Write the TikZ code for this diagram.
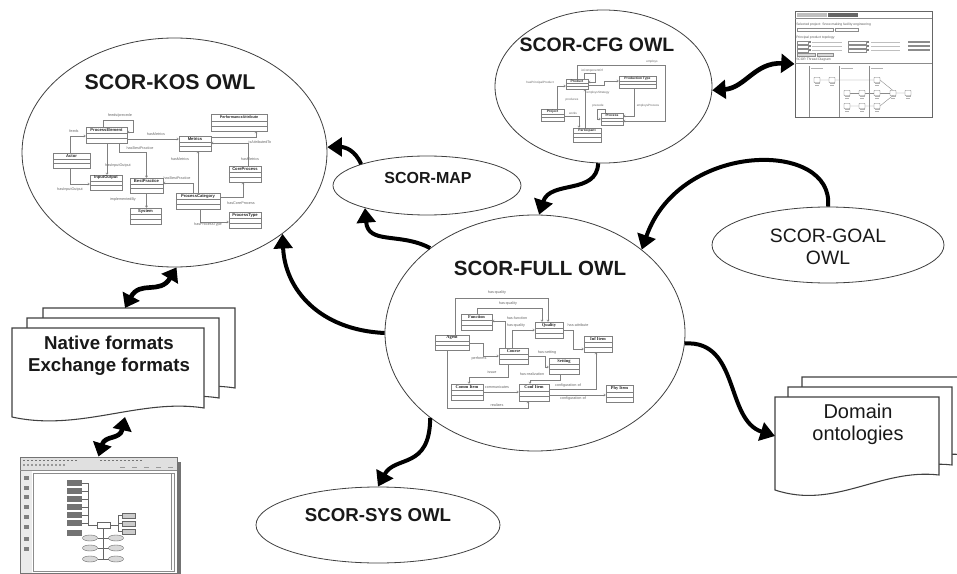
\documentclass[tikz,border=0pt]{standalone}
\usepackage{fontspec}
\setmainfont{Liberation Sans}
\newfontfamily\umlserif{Liberation Serif}
\usetikzlibrary{shapes.geometric,arrows.meta,calc}

\tikzset{
  ell/.style={ellipse, draw=black!75, line width=0.6pt, fill=white, inner sep=0pt},
  ttl/.style={inner sep=0pt, text=black!90, font=\bfseries\fontsize{#1}{#1}\selectfont},
  rtl/.style={inner sep=0pt, align=center, text=black!90, font=\fontsize{#1}{16.5}\selectfont},
  btl/.style={inner sep=0pt, align=center, text=black!90, font=\bfseries\fontsize{#1}{16.5}\selectfont},
  big/.style={line width=3pt, black, -{Triangle[length=11pt,width=14pt]}},
  dbl/.style={line width=3.5pt, black, {Triangle[length=10pt,width=14pt]}-{Triangle[length=10pt,width=14pt]}},
  doc/.style={draw=black!75, line width=0.8pt, fill=white},
  umlrect/.style={draw=black!50, line width=0.35pt, fill=white, inner sep=0pt, rectangle},
  umln/.style={font=\bfseries\fontsize{3.1}{3.2}\selectfont, inner sep=0pt, text=black!85},
  umll/.style={font=\fontsize{2.8}{3}\selectfont, inner sep=0pt, text=black!60},
  uline/.style={draw=black!50, line width=0.35pt},
  uarr/.style={uline, -{Straight Barb[length=1.2pt,width=1.8pt]}},
  shot/.style={draw=black!60, line width=0.7pt, fill=white, inner sep=0pt, rectangle},
  tinyt/.style={font=\fontsize{2.5}{3}\selectfont, inner sep=0pt, text=black!65, anchor=west},
  sline/.style={draw=black!45, line width=0.3pt},
}

\newcommand{\umlbox}[7][]{%
  \pgfmathsetmacro{\umlW}{(#6-#4)*0.75}%
  \pgfmathsetmacro{\umlH}{(#7-#5)*0.75}%
  \pgfmathsetmacro{\umlA}{(#7-#5)*0.42}%
  \pgfmathsetmacro{\umlC}{(#7-#5)*0.21}%
  \pgfmathsetmacro{\umlB}{(#7-#5)*0.71}%
  \node[umlrect, minimum width=\umlW pt, minimum height=\umlH pt] (#2) at ({(#4+#6)/2},{(#5+#7)/2}) {};
  \node[umln,#1] at ($(#2.north)+(0,\umlC)$) {#3};
  \draw[uline] ($(#2.north west)+(0,\umlA)$) -- ($(#2.north east)+(0,\umlA)$);
  \draw[uline] ($(#2.north west)+(0,\umlB)$) -- ($(#2.north east)+(0,\umlB)$);
}

\begin{document}
\begin{tikzpicture}[x=0.75pt,y=-0.75pt]
\useasboundingbox (0,0) rectangle (957,574);
\fill[white] (0,0) rectangle (957,574);

% ---------------- ellipses ----------------
\node[ell, minimum width=228.75pt, minimum height=171.75pt] (kos) at (174.5,152.5) {};
\node[ell, minimum width=225pt, minimum height=177pt] (full) at (535,333) {};
\node[ell, minimum width=162.75pt, minimum height=114.75pt] (cfg) at (603.5,86.5) {};
\node[ell, minimum width=141pt, minimum height=44.25pt] (map) at (427,185.5) {};
\node[ell, minimum width=174pt, minimum height=57pt] (goal) at (828,245) {};
\node[ell, minimum width=183pt, minimum height=57pt] (sys) at (378,525) {};

\node[ttl=16] (kost) at (170,82) {SCOR-KOS OWL};
\node[ttl=15.4] (fullt) at (540,268) {SCOR-FULL OWL};
\node[ttl=14.6] (cfgt) at (597,45) {SCOR-CFG OWL};
\node[ttl=12] (mapt) at (428,178) {SCOR-MAP};
\node[rtl=14.5] (goalt) at (828,247) {SCOR-GOAL\\OWL};
\node[ttl=14] (syst) at (378,515) {SCOR-SYS OWL};

% ---------------- KOS UML ----------------
\umlbox{pe}{ProcessElement}{86}{127}{127}{143}
\umlbox{act}{Actor}{53}{153}{90}{168}
\umlbox{io}{InputOutput}{90}{175}{122}{190}
\umlbox{bp}{BestPractice}{130}{178}{163}{193}
\umlbox{sy}{System}{130}{208}{161}{224}
\umlbox{met}{Metrics}{179}{136}{211}{151}
\umlbox[font=\bfseries\fontsize{2.8}{3}\selectfont]{pa}{PerformanceAttribute}{211}{114}{267}{131}
\umlbox{cp}{CoreProcess}{229}{166}{261}{182}
\umlbox{pc}{ProcessCategory}{176}{193}{220}{209}
\umlbox{pt}{ProcessType}{229}{212}{261}{228}

\draw[uarr] (pe.north -| 103,0) -- (103,120) -- (133,120) -- (133,132) -- (pe.east |- 0,132);
\draw[uarr] (act.north -| 70,0) |- (pe.west |- 0,136);
\draw[uarr] (act.south -| 70,0) |- (io.west |- 0,184);
\draw[uarr] (pe.south -| 107,0) -- (io.north -| 107,0);
\draw[uarr] (pe.south -| 119,0) |- (146.5,152) -- (bp.north);
\draw[uarr] (pe.east |- 0,139) -- (met.west |- 0,139);
\draw[uarr] (bp.south) -- (bp.south |- sy.north);
\draw[uarr] (pc.north -| 198,0) -- (met.south -| 198,0);
\draw[uarr] (pc.north -| 193,0) |- (bp.east |- 0,183);
\draw[uarr] (pc.east |- 0,197) -| (cp.south -| 243,0);
\draw[uarr] (pc.south -| 200,0) |- (pt.west |- 0,222);
\draw[uarr] (cp.north -| 248,0) |- (met.east |- 0,143);
\draw[uarr] (met.east |- 0,137) -| (pa.south -| 256,0);

\node[umll] at (120,116) {feeds/precede};
\node[umll] at (74,131) {feeds};
\node[umll] at (156,134) {hasMetrics};
\node[umll] at (140,148) {hasBestPractice};
\node[umll] at (118,166) {hasInputOutput};
\node[umll] at (70,190) {hasInputOutput};
\node[umll] at (123,200) {implementedBy};
\node[umll] at (177,178) {hasBestPractice};
\node[umll] at (180,159) {hasMetrics};
\node[umll] at (250,159) {hasMetrics};
\node[umll] at (260,142) {isAttributedTo};
\node[umll] at (241,203) {hasCoreProcess};
\node[umll] at (208,225) {hasProcessType};

% ---------------- FULL UML ----------------
\umlbox[font=\umlserif\bfseries\fontsize{3.3}{3.3}\selectfont]{fn}{Function}{461}{314}{492}{330}
\umlbox[font=\umlserif\bfseries\fontsize{3.3}{3.3}\selectfont]{ql}{Quality}{535}{322}{563}{338}
\umlbox[font=\umlserif\bfseries\fontsize{3.3}{3.3}\selectfont]{ag}{Agent}{435}{335}{469}{350}
\umlbox[font=\umlserif\bfseries\fontsize{3.3}{3.3}\selectfont]{inf}{Inf Item}{584}{336}{612}{352}
\umlbox[font=\umlserif\bfseries\fontsize{3.3}{3.3}\selectfont]{co}{Course}{499}{348}{528}{364}
\umlbox[font=\umlserif\bfseries\fontsize{3.3}{3.3}\selectfont]{se}{Setting}{549}{358}{579}{374}
\umlbox[font=\umlserif\bfseries\fontsize{3.3}{3.3}\selectfont]{cm}{Comm Item}{451}{384}{483}{400}
\umlbox[font=\umlserif\bfseries\fontsize{3.3}{3.3}\selectfont]{cf}{Conf Item}{519}{384}{549}{401}
\umlbox[font=\umlserif\bfseries\fontsize{3.3}{3.3}\selectfont]{ph}{Phy Item}{606}{385}{633}{402}

\draw[uarr] (ag.north -| 455,0) |- (548,298) -- (ql.north -| 548,0);
\draw[uarr] (fn.north -| 477,0) |- (542,308) -- (ql.north -| 542,0);
\draw[uarr] (co.north -| 505,0) |- (fn.east |- 0,321);
\draw[uarr] (co.north -| 512,0) |- (ql.west |- 0,330);
\draw[uarr] (ql.east |- 0,330) -- (573,330) |- (inf.west |- 0,349);
\draw[uarr] (ag.east |- 0,343) -- (483,343) |- (co.west |- 0,356);
\draw[uarr] (co.east |- 0,356) -- (545,356) |- (se.west |- 0,367);
\draw[uarr] (co.south -| 508,0) |- (469,377) -- (cm.north -| 469,0);
\draw[uarr] (se.south -| 560,0) |- (530,380) -- (cf.north -| 530,0);
\draw[uarr] (cm.east |- 0,392) -- (cf.west |- 0,392);
\draw[uarr] (cf.east |- 0,389) -| (inf.south -| 596,0);
\draw[uarr] (cf.east |- 0,395) -- (ph.west |- 0,395);
\draw[uarr] (ag.south -| 447,0) |- (528,408) -- (cf.south -| 528,0);

\node[umll] at (497,293) {has-quality};
\node[umll] at (508,304) {has-quality};
\node[umll] at (517,318) {has-function};
\node[umll] at (516,326) {has-quality};
\node[umll] at (578,325) {has-attribute};
\node[umll] at (479,359) {performs};
\node[umll] at (547,353) {has-setting};
\node[umll] at (492,372) {issue};
\node[umll] at (532,374) {has-realization};
\node[umll] at (497,387) {communicates};
\node[umll] at (568,386) {configuration-of};
\node[umll] at (573,399) {configuration-of};
\node[umll] at (497,405) {realizes};

% ---------------- CFG UML ----------------
\umlbox[font=\bfseries\fontsize{2.5}{3}\selectfont]{prd}{Product}{566}{79}{588}{89}
\umlbox[font=\bfseries\fontsize{2.5}{3}\selectfont]{ptp}{Production Type}{619}{76}{656}{88}
\umlbox[font=\bfseries\fontsize{2.5}{3}\selectfont]{prj}{Project}{541}{109}{564}{121}
\umlbox[font=\bfseries\fontsize{2.5}{3}\selectfont]{prc}{Process}{601}{113}{623}{125}
\umlbox[font=\bfseries\fontsize{2.5}{3}\selectfont]{par}{Participant}{573}{128}{601}{142}

\draw[uarr] (prd.north -| 577,0) |- (665,65) |- (prc.east |- 0,121);
\draw[uarr] (prd.north -| 584,0) |- (595,73) |- (prd.east |- 0,82);
\draw[uarr] (prd.east |- 0,85) -- (604,85) |- (ptp.west |- 0,81);
\draw[uarr] (prj.north -| 557,0) |- (prd.west |- 0,86);
\draw[uarr] (par.north -| 585,0) -- (prd.south -| 585,0);
\draw[uarr] (ptp.south -| 634,0) |- (prc.east |- 0,116);
\draw[uarr] (prc.north -| 605,0) |- (597,109) |- (prc.west |- 0,119);
\draw[uarr] (prj.east |- 0,116) -| (par.north -| 579,0);

\begin{scope}[every node/.style={umll, font=\fontsize{2.3}{3}\selectfont}]
\node at (652,62) {employs};
\node at (592,71) {isComponentOf};
\node at (540,83) {hasPrincipalProduct};
\node at (598,93) {employsStrategy};
\node at (572,100) {produces};
\node at (648,106) {employsProcess};
\node at (598,106) {precede};
\node at (573,113) {works};
\end{scope}

% ---------------- Native formats documents ----------------
\newcommand{\nativedoc}{(12,328) -- (204,328) -- (204,408) .. controls (140,398) and (80,432) .. (12,417) -- cycle}
\draw[doc, shift={(31,-20)}] \nativedoc;
\draw[doc, shift={(15,-10)}] \nativedoc;
\draw[doc] \nativedoc;
\node[btl=14] (natt) at (109,356) {Native formats\\Exchange formats};
\coordinate (nattop) at (125,308);
\coordinate (natbot) at (125,417);

% ---------------- Domain ontologies documents ----------------
\newcommand{\domdoc}{(775,397) -- (939,397) -- (939,475) .. controls (880,468) and (835,510) .. (775,490) -- cycle}
\draw[doc, shift={(27,-20)}] \domdoc;
\draw[doc, shift={(13,-10)}] \domdoc;
\draw[doc] \domdoc;
\node[rtl=15] (domt) at (858,424) {Domain\\ontologies};
\coordinate (domin) at (775,436);

% ---------------- top-right screenshot ----------------
\node[shot, minimum width=102.75pt, minimum height=79.5pt] (scr1) at (863.5,64) {};
\fill[black!25] (797,13) rectangle (827,17.5);
\fill[black!60] (828,13) rectangle (858,17.5);
\draw[sline] (795,18.5) -- (932,18.5);
\node[tinyt] at (796,25) {Selected project: Snow making facility engineering};
\draw[sline] (797,28.5) rectangle (833,31);
\draw[sline] (835,28.5) rectangle (858,31);
\node[tinyt] at (796,38) {Principal product topology};
\foreach \yy in {41,45,49} {
  \draw[sline] (797,\yy) rectangle (808,\yy+3);
  \fill[black!50] (809,\yy+0.5) rectangle (811,\yy+2.5);
  \fill[black!25] (812,\yy+1) rectangle (842,\yy+2);
  \draw[sline] (848,\yy) rectangle (866,\yy+3);
  \fill[black!50] (867,\yy+0.5) rectangle (869,\yy+2.5);
  \fill[black!25] (871,\yy+1) rectangle (900,\yy+2);
  \fill[black!45] (908,\yy+0.5) rectangle (930,\yy+2.5);
}
\draw[sline, fill=black!15] (797,53) rectangle (815,56);
\draw[sline, fill=black!15] (817,53) rectangle (833,56);
\node[tinyt] at (796,60) {SCOR Thread Diagram};
\draw[sline] (795,63.5) -- (932,63.5);
\foreach \xx in {809,839,869} \draw[sline] (\xx,66) -- (\xx,117);
\foreach \xx in {811,841,871} \fill[black!30] (\xx,68) rectangle (\xx+12,69);
\draw[sline] (820,80) -- (880,80) -- (896,93) -- (911,93);
\draw[sline] (850,93) -- (896,93);
\draw[sline] (850,106) -- (880,106) -- (896,93);
\foreach \p in {(817,80),(832,80),(877,80),(847,93),(862,93),(877,93),(893,93),(908,93),(847,106),(862,106),(877,106)} {
  \draw[black!55, line width=0.35pt, fill=white, rounded corners=0.4pt] \p ++(-3,-2.5) rectangle ++(6,5);
  \fill[black!30] \p ++(-2.5,3.5) rectangle ++(5,0.7);
  \fill[black!30] \p ++(-2.5,5) rectangle ++(4,0.7);
}

% ---------------- bottom-left screenshot ----------------
\fill[black!55] (177,462) rectangle (181,574);
\node[shot, draw=black!55, minimum width=117.75pt, minimum height=87pt] (scr2) at (98.5,515) {};
\fill[black!12] (20.5,457.5) rectangle (176.5,470);
\foreach \xx in {23,27,...,75} \fill[black!55] (\xx,459.5) rectangle ++(2,1.5);
\foreach \xx in {100,104,...,140} \fill[black!55] (\xx,459.5) rectangle ++(2,1.5);
\foreach \xx in {23,27,...,63} \fill[black!40] (\xx,464) rectangle ++(2,1.5);
\foreach \xx in {120,132,144,156,168} \fill[black!40] (\xx,467) rectangle ++(5,1.2);
\draw[sline] (20,470.5) -- (177,470.5);
\fill[black!8] (20.5,471) rectangle (32,572.5);
\foreach \yy in {476,486,495,505,515,525,537,547} \fill[black!50] (24,\yy) rectangle ++(5,4);
\draw[sline] (33,473) rectangle (174,571);
\draw[sline] (171,474) -- (171,570);
\foreach \yy in {480,488,496,504,512,520} {
  \fill[black!55] (67,\yy) rectangle ++(15,6);
  \draw[black!60, line width=0.3pt] (82,\yy+3) -- (88,\yy+3);
}
\fill[black!55] (67,530) rectangle ++(15,6);
\draw[black!60, line width=0.3pt] (88,483) -- (88,525) -- (97,525);
\draw[black!60, line width=0.3pt, fill=white] (97,522) rectangle (110,528);
\draw[black!60, line width=0.3pt] (110,525) -- (118,525);
\draw[black!60, line width=0.3pt] (118,515.5) -- (118,531.5);
\foreach \yy in {513,521,529} {
  \draw[black!60, line width=0.3pt] (118,\yy+2.5) -- (122,\yy+2.5);
  \draw[black!60, line width=0.3pt, fill=black!20] (122,\yy) rectangle ++(13,5);
}
\draw[black!60, line width=0.3pt] (103.5,528) -- (103.5,559);
\foreach \yy in {538,548,559} {
  \draw[black!60, line width=0.3pt] (97.5,\yy) -- (108.5,\yy);
  \draw[black!60, line width=0.3pt, fill=black!15] (90,\yy) ellipse [x radius=7.5, y radius=3];
  \draw[black!60, line width=0.3pt, fill=black!15] (116,\yy) ellipse [x radius=7.5, y radius=3];
}

% ---------------- big arrows ----------------
\draw[big] (full.180) .. controls (320,330) and (285,290) .. (kos.323);
\draw[big] (full.141) .. controls (400,232) and (368,245) .. (map.200);
\draw[big] (map.162) .. controls (355,150) and (345,147) .. (kos.2);
\draw[big] (cfg.266) .. controls (597,195) and (550,180) .. (full.88);
\draw[big] (goal.north) .. controls (835,140) and (680,140) .. (full.38);
\draw[big] (full.219) .. controls (430,470) and (395,455) .. (sys.north);
\draw[big] (full.356) .. controls (740,340) and (725,420) .. (domin);

% ---------------- double arrows ----------------
\draw[dbl] (kos.271) .. controls (160,295) and (140,280) .. (nattop);
\draw[dbl] (natbot) .. controls (120,440) and (105,435) .. (scr2.north);
\draw[dbl] (cfg.358) .. controls (745,88) and (755,62) .. (scr1.west);
\end{tikzpicture}
\end{document}
